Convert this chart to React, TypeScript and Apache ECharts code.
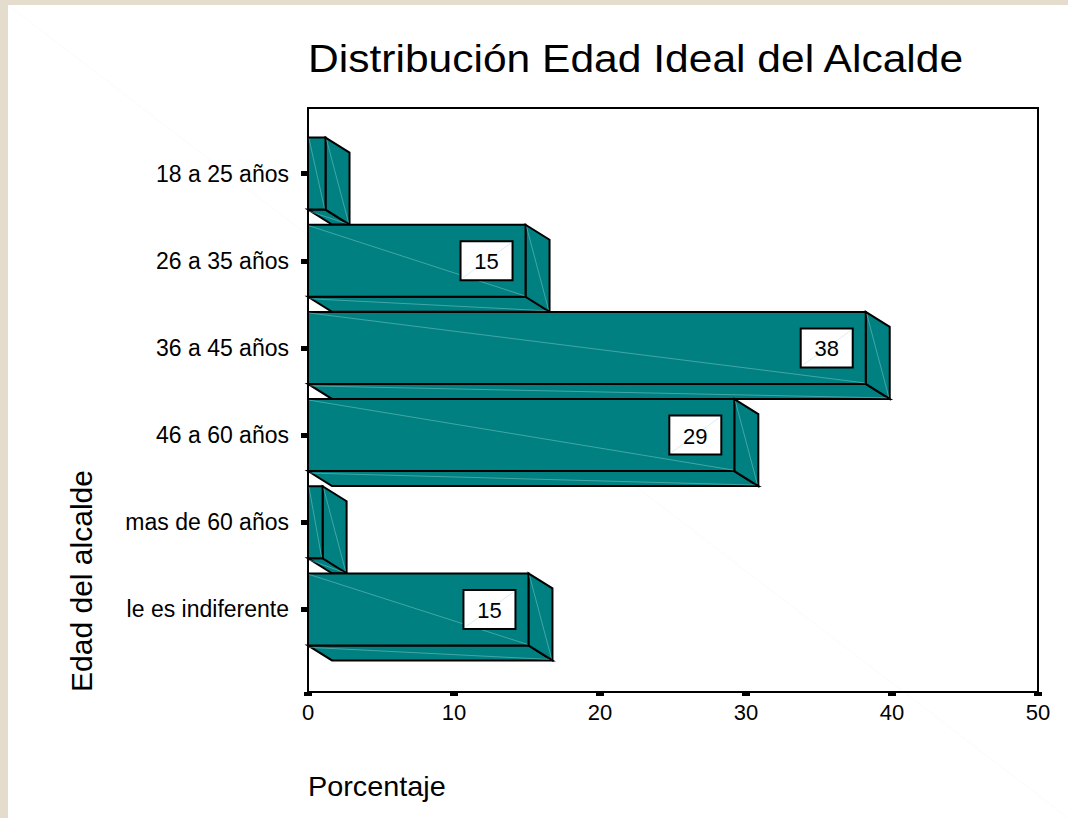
import React, { useEffect, useRef } from "react";
import * as echarts from "echarts";

const categories = [
  "18 a 25 años",
  "26 a 35 años",
  "36 a 45 años",
  "46 a 60 años",
  "mas de 60 años",
  "le es indiferente",
];
const percentages = [1.2, 14.9, 38.2, 29.2, 1.0, 15.1];
const xTicks = { min: 0, max: 50, interval: 10 };
const titleText = "Distribución Edad Ideal del Alcalde";
const xName = "Porcentaje";
const yName = "Edad del alcalde";

const FONT = "'Liberation Sans', Arial, Helvetica, sans-serif";
const TEAL = "#008080";
const FAINT = "rgba(160,220,220,0.7)";
const DX = 24;
const DY = 15;
const LABEL_MIN = 5;

export default function App() {
  const ref = useRef<HTMLDivElement>(null);

  useEffect(() => {
    document.body.style.margin = "0";
    if (!ref.current) return;
    const chart = echarts.init(ref.current, undefined, { renderer: "svg" });

    const renderItem = (params: any, api: any) => {
      const v = api.value(0);
      const idx = api.value(1);
      const p0 = api.coord([0, idx]);
      const p1 = api.coord([v, idx]);
      const band = api.size([0, 1])[1];
      const h = band * 0.826;
      const x0 = p0[0];
      const x1 = p1[0];
      const top = p0[1] - h / 2;
      const bot = p0[1] + h / 2;
      const stroke = { stroke: "#000", lineWidth: 2, lineJoin: "miter" };
      const children: any[] = [
        {
          type: "polygon",
          shape: {
            points: [
              [x0, bot],
              [x1, bot],
              [x1 + DX, bot + DY],
              [x0 + DX, bot + DY],
            ],
          },
          style: { fill: TEAL, ...stroke },
        },
        {
          type: "polygon",
          shape: {
            points: [
              [x1, top],
              [x1 + DX, top + DY],
              [x1 + DX, bot + DY],
              [x1, bot],
            ],
          },
          style: { fill: TEAL, ...stroke },
        },
        {
          type: "rect",
          shape: { x: x0, y: top, width: x1 - x0, height: h },
          style: { fill: TEAL, ...stroke },
        },
        {
          type: "line",
          shape: { x1: x0 + 1, y1: top + 1, x2: x1 - 1, y2: bot - 1 },
          style: { stroke: FAINT, lineWidth: 0.6 },
        },
        {
          type: "line",
          shape: { x1: x1 + 1, y1: top + 2, x2: x1 + DX - 1, y2: bot + DY - 2 },
          style: { stroke: FAINT, lineWidth: 0.6 },
        },
        {
          type: "line",
          shape: { x1: x0 + 2, y1: bot + 2, x2: x1 + DX - 3, y2: bot + DY - 1 },
          style: { stroke: FAINT, lineWidth: 0.6 },
        },
      ];
      if (v >= LABEL_MIN) {
        const bw = 52;
        const bh = 39;
        const bx = x1 - 13 - bw;
        const by = p0[1] - bh / 2;
        children.push(
          {
            type: "rect",
            shape: { x: bx, y: by, width: bw, height: bh },
            style: { fill: "#fff", stroke: "#000", lineWidth: 2 },
          },
          {
            type: "line",
            shape: { x1: bx + 2, y1: by + bh - 2, x2: bx + bw - 2, y2: by + 2 },
            style: { stroke: FAINT, lineWidth: 0.6 },
          },
          {
            type: "text",
            style: {
              text: String(Math.round(v)),
              x: bx + bw / 2,
              y: p0[1] + 1,
              align: "center",
              verticalAlign: "middle",
              fontSize: 22,
              fontFamily: FONT,
              fill: "#000",
            },
          }
        );
      }
      return { type: "group", children };
    };

    chart.setOption({
      animation: false,
      backgroundColor: "transparent",
      grid: [
        { left: 308, right: 30, top: 130, bottom: 165 },
        {
          left: 308,
          right: 30,
          top: 108,
          bottom: 126,
          show: true,
          borderColor: "#000",
          borderWidth: 2,
          backgroundColor: "transparent",
        },
      ],
      xAxis: [
        { gridIndex: 0, type: "value", min: xTicks.min, max: xTicks.max, show: false },
        {
          gridIndex: 1,
          type: "value",
          min: xTicks.min,
          max: xTicks.max,
          interval: xTicks.interval,
          axisLine: { show: false },
          axisTick: { show: true, length: 4, lineStyle: { color: "#000", width: 8 } },
          splitLine: { show: false },
          axisLabel: { fontSize: 22, fontFamily: FONT, color: "#000", margin: 9 },
        },
      ],
      yAxis: [
        {
          gridIndex: 0,
          type: "category",
          data: categories,
          inverse: true,
          axisLine: { show: false },
          axisTick: {
            show: true,
            alignWithLabel: true,
            length: 7,
            lineStyle: { color: "#000", width: 5 },
          },
          axisLabel: { fontSize: 23, fontFamily: FONT, color: "#000", margin: 19 },
        },
        { gridIndex: 1, type: "value", show: false },
      ],
      graphic: [
        {
          type: "line",
          z: -10,
          shape: { x1: 8, y1: 5, x2: 1068, y2: 818 },
          style: { stroke: "#fafafa", lineWidth: 1 },
        },
        {
          type: "text",
          x: 308,
          y: 59,
          scaleX: 1.12,
          style: {
            text: titleText,
            fontSize: 38,
            fontFamily: FONT,
            fill: "#000",
            align: "left",
            verticalAlign: "middle",
          },
        },
        {
          type: "text",
          x: 308,
          y: 786,
          scaleX: 1.03,
          style: {
            text: xName,
            fontSize: 28,
            fontFamily: FONT,
            fill: "#000",
            align: "left",
            verticalAlign: "middle",
          },
        },
        {
          type: "text",
          x: 81,
          y: 581,
          rotation: Math.PI / 2,
          style: {
            text: yName,
            fontSize: 30,
            fontFamily: FONT,
            fill: "#000",
            align: "center",
            verticalAlign: "middle",
          },
        },
      ],
      series: [
        {
          type: "custom",
          xAxisIndex: 0,
          yAxisIndex: 0,
          z: 5,
          renderItem,
          encode: { x: 0, y: 1 },
          data: percentages.map((v, i) => [v, i]),
        },
      ],
    });

    return () => chart.dispose();
  }, []);

  return (
    <div
      style={{
        position: "relative",
        width: 1068,
        height: 818,
        background: "#e4dccd",
        overflow: "hidden",
      }}
    >
      <div
        style={{
          position: "absolute",
          left: 8,
          top: 5,
          width: 1060,
          height: 813,
          background: "#ffffff",
        }}
      />
      <div
        ref={ref}
        style={{ position: "absolute", left: 0, top: 0, width: 1068, height: 818 }}
      />
    </div>
  );
}
